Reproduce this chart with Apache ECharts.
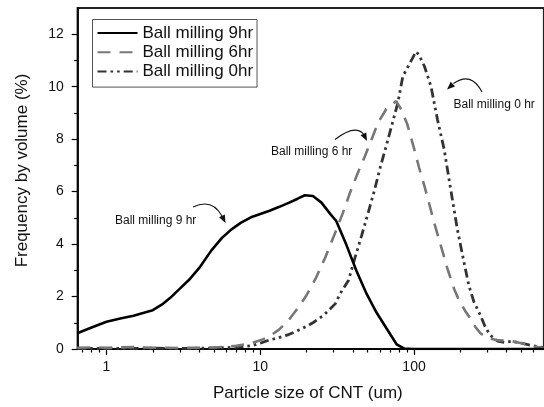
<!DOCTYPE html>
<html><head><meta charset="utf-8">
<script src="https://cdn.jsdelivr.net/npm/echarts@6/dist/echarts.min.js"></script>
<style>html,body{margin:0;padding:0;background:#fff}#c{width:544px;height:407px}</style>
</head><body><div id="c"></div>
<script>
// ---- data (particle size in um, frequency by volume in %) ----
const sizes9 = [0.645,0.8,1.0,1.25,1.5,1.75,2.0,2.3,2.6,3.0,3.5,4.0,4.8,5.6,6.5,7.5,8.7,10,11.5,13.3,15.3,17.5,19.5,22,25,28.5,31.2,36.3,42.2,49.1,57,66.3,77,86,100,200,700];
const freq9  = [0.60,0.82,1.04,1.17,1.27,1.38,1.48,1.70,1.95,2.30,2.68,3.08,3.75,4.22,4.56,4.82,5.02,5.15,5.27,5.42,5.57,5.73,5.86,5.83,5.58,5.15,4.88,3.97,2.98,2.11,1.39,0.78,0.18,0.02,0,0,0];

const sizes6 = [0.645,0.8,1,1.5,2,3,4,5,6,7,8.7,10,11.5,13.3,15.3,17.5,20,22.9,26.5,30.8,34.5,38.4,43,48,53,58.4,66,76.6,82.5,90,100,108,117,126,135,150,165,182,196,215,233,250,270,300,345,400,450,500,600,700];
const freq6  = [0.05,0.06,0.05,0.07,0.05,0.04,0.05,0.06,0.08,0.12,0.22,0.33,0.48,0.75,1.10,1.55,2.05,2.68,3.50,4.45,5.20,5.97,6.70,7.36,8.00,8.63,9.15,9.45,9.13,8.60,7.65,6.90,6.20,5.50,4.83,3.90,3.06,2.30,1.86,1.45,1.16,0.85,0.60,0.42,0.34,0.32,0.28,0.22,0.10,0.04];

const sizes0 = [0.645,1,2,3,4,5,6,7,8.7,10,11.4,13,15.3,18.8,22,25.9,30.8,33,37.5,41.4,45.5,50.4,55,59.9,67.8,78.5,84.6,92,98,103,108,117,129,142,157,173,191,211,227,245,270,290,312,350,387,431,500,600,700];
const freq0  = [0.02,0.02,0.03,0.02,0.03,0.04,0.05,0.07,0.12,0.22,0.34,0.42,0.55,0.78,1.00,1.29,1.73,2.10,2.62,3.50,4.30,5.21,6.00,6.86,8.00,9.39,10.40,10.80,11.10,11.34,11.20,10.77,10.00,8.75,7.61,6.10,4.58,3.32,2.43,1.80,1.29,0.85,0.53,0.30,0.25,0.30,0.22,0.12,0.05];

const seriesNames = ['Ball milling 9hr','Ball milling 6hr','Ball milling 0hr'];
const xMajorTicks = [1,10,100];
const xMinorTicks = [0.7,0.8,0.9,2,3,4,5,6,7,8,9,20,30,40,50,60,70,80,90,200,300,400,500,600];
const yMajorTicks = [0,2,4,6,8,10,12];
const yMinorTicks = [1,3,5,7,9,11];
const notes = ['Ball milling 9 hr','Ball milling 6 hr','Ball milling 0 hr'];

const pairs = (xs, ys) => xs.map((x, i) => [x, ys[i]]);
const FONT = '"Liberation Sans", Arial, sans-serif';

function arrow(x1, y1, cpx, cpy, x2, y2, tx, ty) {
  const dx = tx - x2, dy = ty - y2, L = Math.hypot(dx, dy) || 1;
  const ux = dx / L, uy = dy / L, len = 8, w = 3.2;
  const bx = tx - ux * len, by = ty - uy * len;
  return [
    {type:'bezierCurve', shape:{x1:x1,y1:y1,cpx1:cpx,cpy1:cpy,x2:x2,y2:y2}, style:{stroke:'#111', lineWidth:1.1, fill:null}, z:10},
    {type:'polygon', shape:{points:[[tx,ty],[bx - uy*w, by + ux*w],[bx + uy*w, by - ux*w]]}, style:{fill:'#111'}, z:10}
  ];
}

const chart = echarts.init(document.getElementById('c'), null, {renderer:'canvas'});
const xCommon = {type:'log', min:0.65, max:700, logBase:10, gridIndex:0, splitLine:{show:false}};
chart.setOption({
  backgroundColor:'#fff',
  animation:false,
  grid:{left:77.7, right:-5.7, top:8, bottom:56.3, containLabel:false,
        show:true, borderColor:'#222', borderWidth:2.2, backgroundColor:'transparent'},
  legend:{
    orient:'vertical', left:92.5, top:19.5, data:seriesNames,
    itemWidth:40, itemHeight:12, itemGap:2.3,
    padding:[5,4,7,4],
    borderColor:'#555', borderWidth:1, backgroundColor:'#fff',
    itemStyle:{opacity:0},
    textStyle:{fontFamily:FONT, fontSize:17, color:'#111', lineHeight:17}
  },
  xAxis:[
    Object.assign({}, xCommon, {
      position:'bottom',
      axisLine:{show:true, onZero:false, lineStyle:{color:'#000', width:1.5}},
      axisTick:{show:true, inside:false, length:6, customValues:xMajorTicks, lineStyle:{color:'#000', width:1.2}},
      axisLabel:{show:true, customValues:xMajorTicks, margin:11, fontFamily:FONT, fontSize:14, color:'#111',
                 formatter:v => String(Math.round(v))},
      name:'Particle size of CNT (um)', nameLocation:'middle', nameGap:36,
      nameTextStyle:{fontFamily:FONT, fontSize:17, color:'#111', padding:[0,6,0,0]}
    }),
    Object.assign({}, xCommon, {
      position:'bottom',
      axisLine:{show:false, onZero:false},
      axisTick:{show:true, inside:false, length:3.5, customValues:xMinorTicks, lineStyle:{color:'#000', width:1.2}},
      axisLabel:{show:false}
    })
  ],
  yAxis:[
    {type:'value', min:0, max:13, gridIndex:0, position:'left',
     axisLine:{show:true, onZero:false, lineStyle:{color:'#000', width:1.5}},
     axisTick:{show:true, inside:false, length:6, customValues:yMajorTicks, lineStyle:{color:'#000', width:1.2}},
     axisLabel:{show:true, customValues:yMajorTicks, margin:14, fontFamily:FONT, fontSize:14, color:'#111'},
     splitLine:{show:false},
     name:'Frequency by volume (%)', nameLocation:'middle', nameGap:47,
     nameTextStyle:{fontFamily:FONT, fontSize:17, color:'#111', padding:[0,0,0,16]}
    },
    {type:'value', min:0, max:13, gridIndex:0, position:'left',
     axisLine:{show:false, onZero:false},
     axisTick:{show:true, inside:false, length:3.5, customValues:yMinorTicks, lineStyle:{color:'#000', width:1.2}},
     axisLabel:{show:false}, splitLine:{show:false}}
  ],
  series:[
    {name:seriesNames[0], type:'line', xAxisIndex:0, yAxisIndex:0, data:pairs(sizes9, freq9),
     showSymbol:false, symbol:'none', smooth:false,
     lineStyle:{color:'#000', width:2.6, type:'solid'}, itemStyle:{color:'#000'}, z:5},
    {name:seriesNames[1], type:'line', xAxisIndex:0, yAxisIndex:0, data:pairs(sizes6, freq6),
     showSymbol:false, symbol:'none', smooth:false,
     lineStyle:{color:'#777', width:2.6, type:[13,9]}, itemStyle:{color:'#777'}, z:4},
    {name:seriesNames[2], type:'line', xAxisIndex:0, yAxisIndex:0, data:pairs(sizes0, freq0),
     showSymbol:false, symbol:'none', smooth:false,
     lineStyle:{color:'#333', width:2.8, type:[9,4,2.6,4,2.6,4]}, itemStyle:{color:'#333'}, z:3}
  ],
  graphic:[
    {type:'text', left:115, top:215, style:{text:notes[0], font:'12px ' + FONT, fill:'#111'}, z:10},
    {type:'text', left:271, top:145.5, style:{text:notes[1], font:'12px ' + FONT, fill:'#111'}, z:10},
    {type:'text', left:453.5, top:98.5, style:{text:notes[2], font:'12px ' + FONT, fill:'#111'}, z:10}
  ].concat(
    arrow(193,207, 212,198, 222,216, 225.5,223),
    arrow(335,139.5, 355,124, 363.5,134, 367,141),
    arrow(482,92, 471,71, 453.5,83.5, 447,89.5)
  )
});
</script>
</body></html>
